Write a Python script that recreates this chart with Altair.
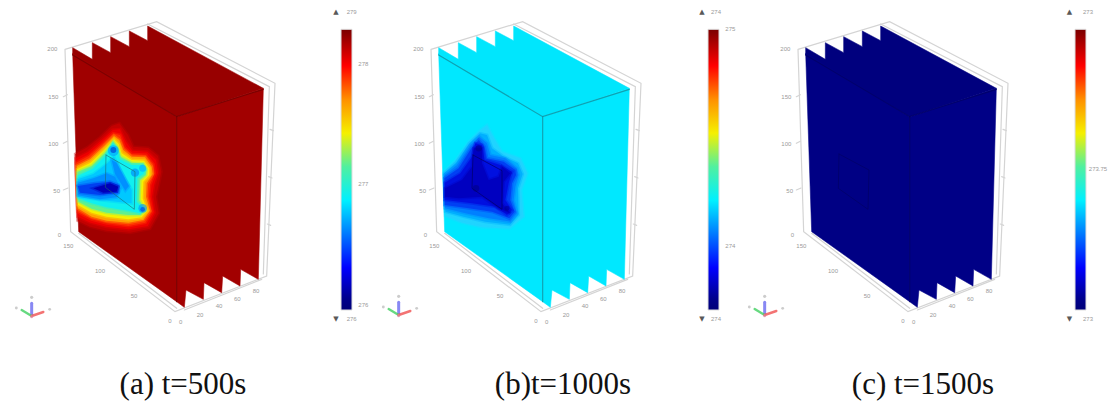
import altair as alt

# All coordinates are in "3x reference pixels" and pass through the scales below.
PANEL_DX = [0, 1098, 2199]
ZOOM_DX = [0, 1116, 2232]

TOP_FACE = [(218,143),(277,178),(277,128),(332,158),(332,110),(388,140),(388,93),(443,122),(443,78),(790,265),(530,350),(218,165)]
FRONT_FACE = [(218,160),(530,350),(530,905),(236,695)]
RIGHT_FACE = [(530,350),(790,265),(775,838),(722,808),(720,858),(668,828),(665,878),(612,848),(610,898),(558,870),(553,922),(530,905)]
FACE_COLORS = [("#980000","#a00000","#a20000"),("#00e6fd","#00e8ff","#00e8ff"),("#00007e","#000084","#000086")]
EDGE_COLORS = ["#720000","#12909f","#000066"]
OBJ_COLORS = ["#1b6b70","#00005e","#000060"]

EDGES = [[(218,165),(530,350),(790,268)],[(530,350),(530,905)]]
FRAME = [
    [(195,148),(212,695),(525,935),(800,828),(825,250),(470,65),(195,148)],
    [(443,72),(808,260),(790,822)],
    [(236,700),(530,925)],
    [(553,930),(785,838)],
    [(810,388),(820,392)],[(806,530),(816,534)],[(802,672),(812,676)],
    [(190,290),(202,284)],[(190,430),(202,424)],[(190,570),(204,564)],
]
OBJECT = [
    [(318,465),(316,562),(403,628),(405,515),(318,465)],
    [(303,465),(300,565),(390,628),(390,512),(303,465)],
    [(285,462),(283,565),(372,628),(375,510),(285,462)],
]

P1_CONTOURS = [
    ("#c40000",[(226,462),(262,442),(300,412),(335,378),(358,370),(384,405),(400,440),(445,444),(474,468),(484,515),(476,555),(468,590),(476,640),(450,686),(390,698),(320,692),(270,680),(233,662)]),
    ("#ee0000",[(227,475),(264,456),(303,422),(338,390),(360,388),(378,425),(397,452),(442,455),(468,480),(474,518),(462,555),(456,590),(464,638),(443,678),(386,688),(320,680),(272,668),(233,650)]),
    ("#ff3000",[(228,488),(266,468),(306,432),(340,400),(360,405),(374,442),(395,462),(438,465),(460,492),(464,520),(450,555),(447,590),(456,635),(436,668),(385,678),(320,670),(275,658),(233,636)]),
    ("#ffa000",[(230,498),(270,478),(310,440),(342,408),(358,420),(370,450),(395,470),(435,472),(455,500),(458,522),(440,550),(438,590),(450,632),(430,660),(385,668),(320,662),(275,650),(233,625)]),
    ("#f5f000",[(231,508),(272,488),(312,450),(342,418),(356,432),(365,460),(395,480),(432,482),(448,505),(448,525),(430,545),(428,595),(442,632),(425,652),(385,658),(320,650),(275,638),(234,615)]),
    ("#60f090",[(232,516),(275,498),(315,458),(340,425),(352,440),(362,470),(395,488),(430,490),(440,508),(438,525),(420,540),(418,600),(436,632),(420,645),(385,645),(320,638),(275,626),(235,605)]),
    ("#10f0f0",[(233,528),(278,506),(318,465),(338,430),(350,445),(360,478),(395,495),(428,495),(436,510),(430,522),(412,535),(410,605),(430,625),(420,640),(385,632),(320,622),(275,610),(235,595)]),
    ("#00c8ff",[(233,538),(280,522),(322,490),(342,470),(360,510),(395,570),(395,610),(350,605),(300,600),(233,590)]),
    ("#0090ff",[(233,548),(280,535),(320,520),(345,530),(362,565),(350,592),(300,598),(233,586)]),
    ("#0090ff",[(335,480),(350,488),(387,558),(376,572),(345,522)]),
    ("#0040f0",[(233,558),(285,550),(330,545),(355,555),(355,578),(300,585),(240,578)]),
    ("#0000b8",[(280,565),(330,550),(355,560),(350,575),(310,578)]),
]
P1_BLOBS = [(340,452,120,"#00a0ff"),(340,450,35,"#0030d0"),(405,518,70,"#0080ff"),(428,505,50,"#00a8ff"),(428,625,75,"#0090ff"),(428,628,22,"#0040e0")]

P2_CONTOURS = [
    ("#20d4ff",[(216,515),(250,482),(290,425),(325,390),(345,375),(368,418),(390,455),(445,475),(466,520),(448,570),(455,650),(412,686),(330,682),(270,668),(220,648)]),
    ("#00b0ff",[(216,520),(252,488),(292,430),(324,400),(345,405),(360,445),(392,468),(438,490),(452,522),(438,565),(440,645),(414,674),(340,665),(275,650),(220,635)]),
    ("#0080ff",[(217,525),(255,495),(295,435),(322,410),(345,430),(355,465),(400,475),(435,505),(440,525),(430,560),(425,600),(435,640),(415,665),(350,655),(280,640),(219,625)]),
    ("#0040f4",[(217,535),(260,505),(298,445),(320,420),(338,440),(345,475),(395,485),(430,510),(432,525),(420,550),(415,600),(428,635),(412,655),(360,635),(290,625),(218,615)]),
    ("#0010e0",[(218,548),(265,520),(300,470),(310,430),(330,435),(338,480),(385,495),(420,515),(410,550),(400,600),(420,630),(405,645),(370,620),(300,610),(218,600)]),
    ("#0000c0",[(219,565),(270,540),(300,500),(305,445),(330,445),(330,490),(350,540),(380,530),(390,500),(415,520),(395,545),(390,610),(415,640),(380,625),(330,590),(260,595),(219,590)]),
]
P2_BLOBS = [(312,565,45,"#000088"),(320,445,40,"#000090"),(405,625,25,"#000098")]

# colour bars: x0, x1, y0, y1
BARS = [(1023,1056,88,930),(2124,2157,88,930),(3225,3258,88,930)]
JET_OFFSETS = [0,0.04,0.15,0.39,0.51,0.63,0.75,0.87,1.0]
JET_COLORS = ["#000078","#00008c","#0000ff","#00f0ff","#50f0a0","#f5f000","#ff9000","#ff0000","#7a0000"]

TRIAD_CENTER = [(95,948),(80,945),(62,945)]

AXIS_LABELS = [("200",157,148),("150",160,292),("100",160,432),("50",170,572),("0",178,705),
               ("150",205,738),("100",300,812),("50",402,888),("0",510,962),
               ("0",542,965),("20",600,945),("40",657,917),("60",712,897),("80",768,872)]
BAR_LABELS = [
    [("279",1055,37),("278",1090,192),("277",1090,553),("276",1090,915),("276",1055,958)],
    [("274",1032,37),("275",1075,88),("274",1075,738),("274",1032,958)],
    [("273",1032,37),("273.75",1062,507),("273",1032,958)],
]
BAR_MARK_X = [1008,990,976]
CAPTIONS = [("(a) t=500s",549),("(b)t=1000s",1689),("(c) t=1500s",2769)]

X = alt.Scale(domain=[24,3324], nice=False, zero=False)
Y = alt.Scale(domain=[24,1203], nice=False, zero=False, reverse=True)
PROJ = alt.Projection(type="identity", scale=1/3, translate=[-8,-8])


def feature(pts, color, dx):
    ring = [[x+dx, y] for x, y in pts]
    ring.append(ring[0])
    return {"type":"Feature","properties":{"c":color},"geometry":{"type":"Polygon","coordinates":[ring]}}


def polygons(features, stroke_width=1.2, stroke_opacity=0.55):
    return alt.Chart(alt.Data(values=features)).mark_geoshape(strokeWidth=stroke_width, strokeOpacity=stroke_opacity).encode(
        fill=alt.Color("properties.c:N", scale=None),
        stroke=alt.Color("properties.c:N", scale=None),
    ).properties(projection=PROJ)


def lines(segments, dx, color, width, opacity=1.0):
    rows = []
    for s, seg in enumerate(segments):
        for i, (x, y) in enumerate(seg):
            rows.append({"s":s,"i":i,"x":x+dx,"y":y})
    return alt.Chart(alt.Data(values=rows)).mark_line(color=color, strokeWidth=width, opacity=opacity, strokeCap="round").encode(
        x=alt.X("x:Q", scale=X, axis=None), y=alt.Y("y:Q", scale=Y, axis=None),
        detail="s:N", order="i:Q")


def blobs(items, dx, opacity=0.6):
    rows = [{"x":x+dx,"y":y,"a":a,"c":c} for x,y,a,c in items]
    return alt.Chart(alt.Data(values=rows)).mark_circle(opacity=opacity).encode(
        x=alt.X("x:Q", scale=X, axis=None), y=alt.Y("y:Q", scale=Y, axis=None),
        size=alt.Size("a:Q", scale=None), color=alt.Color("c:N", scale=None))


def texts(items, size, color="#777777", font="Liberation Sans", opacity=0.75, baseline="middle"):
    rows = [{"t":t,"x":x,"y":y} for t,x,y in items]
    return alt.Chart(alt.Data(values=rows)).mark_text(fontSize=size, color=color, font=font, opacity=opacity, baseline=baseline, align="center").encode(
        x=alt.X("x:Q", scale=X, axis=None), y=alt.Y("y:Q", scale=Y, axis=None), text="t:N")


layers = []
for p in range(3):
    dx = PANEL_DX[p]
    layers.append(lines(FRAME, dx, "#d4d4d4", 1.2))
    top, front, right = FACE_COLORS[p]
    layers.append(polygons([feature(TOP_FACE, top, dx), feature(FRONT_FACE, front, dx), feature(RIGHT_FACE, right, dx)], 1.0))
    if p == 0:
        layers.append(polygons([feature(pts, c, ZOOM_DX[0]) for c, pts in P1_CONTOURS], 3.0, 0.4))
        layers.append(blobs(P1_BLOBS, ZOOM_DX[0]))
    if p == 1:
        layers.append(polygons([feature(pts, c, ZOOM_DX[1]) for c, pts in P2_CONTOURS], 3.0, 0.4))
        layers.append(blobs(P2_BLOBS, ZOOM_DX[1]))
    layers.append(lines(EDGES, dx, EDGE_COLORS[p], 1.2, 0.8))
    layers.append(lines([OBJECT[p]], ZOOM_DX[p], OBJ_COLORS[p], 1.0, 0.6))

    layers.append(texts([(t, x+dx, y) for t, x, y in AXIS_LABELS], 6))

    # colour bar
    x0, x1, y0, y1 = BARS[p]
    bar = alt.Chart(alt.Data(values=[{"x0":x0,"x1":x1,"y0":y0,"y1":y1}])).mark_rect(
        stroke="#dddddd", strokeWidth=1,
        fill=alt.Gradient(gradient="linear", x1=0, x2=0, y1=1, y2=0,
                          stops=[alt.GradientStop(offset=o, color=c) for o, c in zip(JET_OFFSETS, JET_COLORS)]),
    ).encode(x=alt.X("x0:Q", scale=X, axis=None), x2="x1:Q", y=alt.Y("y0:Q", scale=Y, axis=None), y2="y1:Q")
    layers.append(bar)
    layers.append(texts([(t, x+ZOOM_DX[p], y) for t, x, y in BAR_LABELS[p]], 6))
    mx = BAR_MARK_X[p] + ZOOM_DX[p]
    layers.append(texts([("▲", mx, 37), ("▼", mx, 958)], 7, color="#222222", font="DejaVu Sans"))

    # orientation triad
    cx, cy = TRIAD_CENTER[p]
    zd = ZOOM_DX[p]
    layers.append(lines([[(cx, cy), (cx, cy-38)]], zd, "#6a6af0", 3.0, 0.8))
    layers.append(lines([[(cx, cy), (cx-30, cy-18)]], zd, "#40d060", 2.4, 0.8))
    layers.append(lines([[(cx, cy), (cx+35, cy-12)]], zd, "#f05050", 2.4, 0.8))
    layers.append(blobs([(cx, cy-56, 10, "#aaaaaa"), (cx-46, cy-24, 8, "#aaaaaa"), (cx+54, cy-20, 8, "#aaaaaa"), (cx, cy+2, 10, "#f090a0")], zd))

layers.append(texts([(t, x, 1183) for t, x in CAPTIONS], 31, color="#111111", font="Liberation Serif", opacity=1, baseline="alphabetic"))

chart = alt.layer(*layers).properties(
    width=1100, height=393, padding=0,
    autosize=alt.AutoSizeParams(type="none"),
    background="white",
).configure_view(stroke=None)

chart.save("out.html", embed_options={"renderer": "svg", "actions": False})
